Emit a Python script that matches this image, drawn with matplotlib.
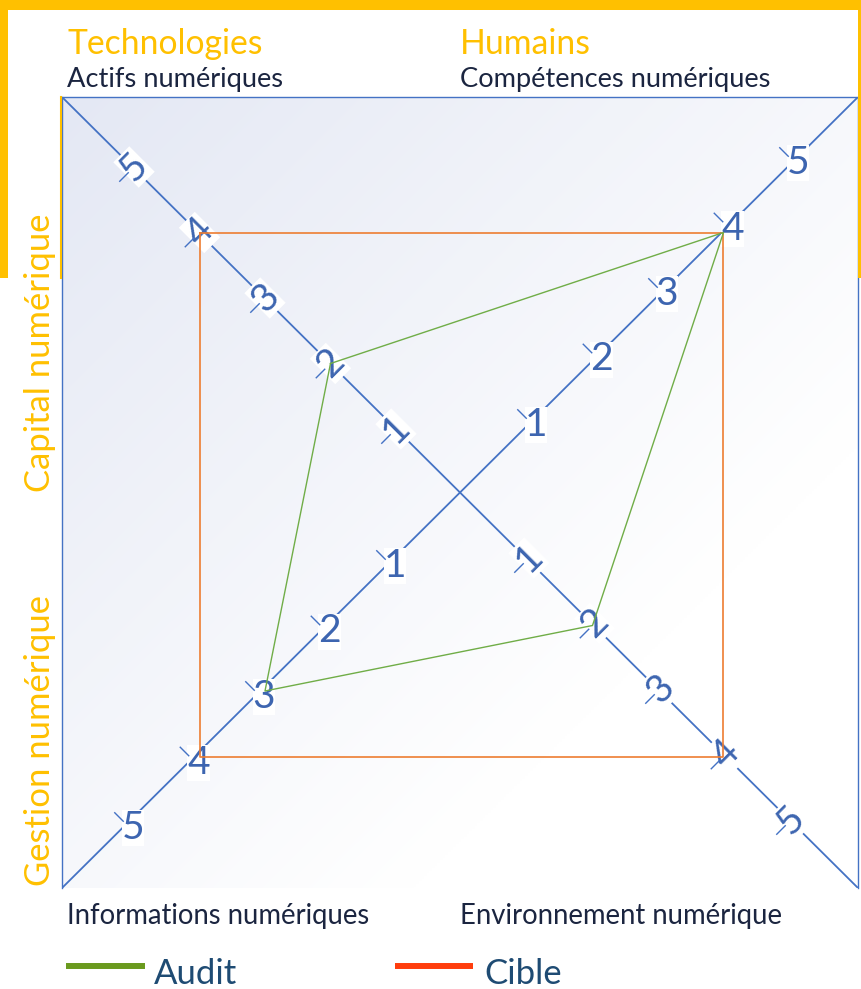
import numpy as np
import matplotlib
matplotlib.use("Agg")
import matplotlib.pyplot as plt
from matplotlib.patches import Rectangle
from matplotlib.lines import Line2D

# ---- data -------------------------------------------------------------
axis_names = ["Actifs numériques", "Compétences numériques",
              "Environnement numérique", "Informations numériques"]
group_titles = ["Technologies", "Humains"]
side_titles = ["Capital numérique", "Gestion numérique"]
tick_values = [1, 2, 3, 4, 5]
audit = [2, 4, 2, 3]
cible = [4, 4, 4, 4]
series_names = ["Audit", "Cible"]

# ---- style ------------------------------------------------------------
W, H = 861, 989
YELLOW = "#FFC000"
AXIS_BLUE = "#4472C4"
TICK_BLUE = "#3D65B0"
NAVY = "#1B2540"
LEGEND_TXT = "#1E4B73"
GREEN = "#70AD47"
ORANGE = "#ED7D31"
plt.rcParams["font.family"] = ["Lato", "DejaVu Sans"]

fig = plt.figure(figsize=(W / 100, H / 100), dpi=100)
fig.patch.set_facecolor("white")


def fx(x):
    return x / W


def fy(y):
    return 1 - y / H


# plot frame in pixels
L, T, R, B = 62, 97, 858, 888
ax = fig.add_axes([fx(L), fy(B), (R - L) / W, (B - T) / H])
scale = 65.5  # pixels per unit
cx, cy = 461.5, 494.5
xlim = (-(cx - L) / scale, (R - cx) / scale)
ylim = (-(B - cy) / scale, (cy - T) / scale)
ax.set_xlim(*xlim)
ax.set_ylim(*ylim)
ax.set_xticks([])
ax.set_yticks([])
for s in ["left", "top", "right"]:
    ax.spines[s].set_color(AXIS_BLUE)
    ax.spines[s].set_linewidth(1.0)
ax.spines["bottom"].set_visible(False)

# soft diagonal gradient background
nx, ny = 300, 300
u = np.linspace(0, 1, nx)[None, :]
w = np.linspace(0, 1, ny)[:, None]
t = np.clip(((u + w) / 2) / 0.72, 0, 1)
c1 = np.array([228, 232, 244]) / 255.0
img = c1[None, None, :] + (1 - c1)[None, None, :] * t[:, :, None]
ax.imshow(img, extent=(xlim[0], xlim[1], ylim[0], ylim[1]),
          origin="upper", aspect="auto", zorder=0, interpolation="bilinear")

# diagonal axes, corner to corner
ax.plot([0, 1], [1, 0], transform=ax.transAxes, color=AXIS_BLUE, lw=1.3, zorder=2)
ax.plot([0, 1], [0, 1], transform=ax.transAxes, color=AXIS_BLUE, lw=1.3, zorder=2)

directions = [(-1, 1), (1, 1), (1, -1), (-1, -1)]  # TL, TR, BR, BL
label_rot = [45, 0, 45, 0]
label_off = [(0, 0), (9, -4), (2, -2), (-1, 6)]       # pixels, y down
tick_off = [(-10, 10), (-14, -11), (-10, 10), (-14, -11)]
px = 1 / scale

for k, (dx, dy) in enumerate(directions):
    for v in tick_values:
        lx = v * dx + label_off[k][0] * px
        ly = v * dy - label_off[k][1] * px
        ax.text(lx, ly, str(v), color=TICK_BLUE, fontsize=28,
                rotation=label_rot[k], rotation_mode="anchor",
                ha="center", va="center", zorder=3,
                bbox=dict(boxstyle="square,pad=0.0", fc="white", ec="none"))
        tx = lx + tick_off[k][0] * px
        ty = ly - tick_off[k][1] * px
        half = 6 * px / np.sqrt(2)
        if label_rot[k] == 0:
            seg = ([tx - half, tx + half], [ty + half, ty - half])
        else:
            seg = ([tx - half, tx + half], [ty - half, ty + half])
        ax.plot(*seg, color=AXIS_BLUE, lw=1.0, zorder=4)


def polygon(values):
    xs = [v * d[0] for v, d in zip(values, directions)]
    ys = [v * d[1] for v, d in zip(values, directions)]
    return xs + xs[:1], ys + ys[:1]


ax.plot(*polygon(cible), color=ORANGE, lw=1.2, zorder=5)
ax.plot(*polygon(audit), color=GREEN, lw=1.0, zorder=6)

# yellow slide frame
fig.patches.append(Rectangle((0, fy(10)), 1, 10 / H, transform=fig.transFigure,
                             fc=YELLOW, ec="none", zorder=10))
fig.patches.append(Rectangle((0, fy(278)), 8 / W, 278 / H, transform=fig.transFigure,
                             fc=YELLOW, ec="none", zorder=10))
fig.patches.append(Rectangle((fx(858), fy(278)), 3 / W, 278 / H, transform=fig.transFigure,
                             fc=YELLOW, ec="none", zorder=10))
fig.lines.append(Line2D([fx(60.5), fx(60.5)], [fy(97), fy(278)], transform=fig.transFigure,
                        color=YELLOW, lw=1.5, zorder=10))

# headings
fig.text(fx(67), fy(54), group_titles[0], color=YELLOW, fontsize=24.3, va="baseline")
fig.text(fx(460), fy(54), group_titles[1], color=YELLOW, fontsize=24.3, va="baseline")
fig.text(fx(67), fy(87), axis_names[0], color=NAVY, fontsize=19.6, va="baseline")
fig.text(fx(460), fy(87), axis_names[1], color=NAVY, fontsize=19.6, va="baseline")
fig.text(fx(67), fy(924), axis_names[3], color=NAVY, fontsize=19.8, va="baseline")
fig.text(fx(460), fy(924), axis_names[2], color=NAVY, fontsize=19.8, va="baseline")
fig.text(fx(40), fy(353), side_titles[0], color=YELLOW, fontsize=24.9,
         rotation=90, ha="center", va="center")
fig.text(fx(40), fy(741), side_titles[1], color=YELLOW, fontsize=24.9,
         rotation=90, ha="center", va="center")

# legend
fig.lines.append(Line2D([fx(66), fx(145)], [fy(966), fy(966)], transform=fig.transFigure,
                        color="#6A9A1E", lw=4.3, solid_capstyle="butt"))
fig.text(fx(154), fy(984), series_names[0], color=LEGEND_TXT, fontsize=25, va="baseline")
fig.lines.append(Line2D([fx(395), fx(473)], [fy(966), fy(966)], transform=fig.transFigure,
                        color="#FF3D0D", lw=4.3, solid_capstyle="butt"))
fig.text(fx(484), fy(984), series_names[1], color=LEGEND_TXT, fontsize=25, va="baseline")

fig.savefig("out.png", dpi=100)
